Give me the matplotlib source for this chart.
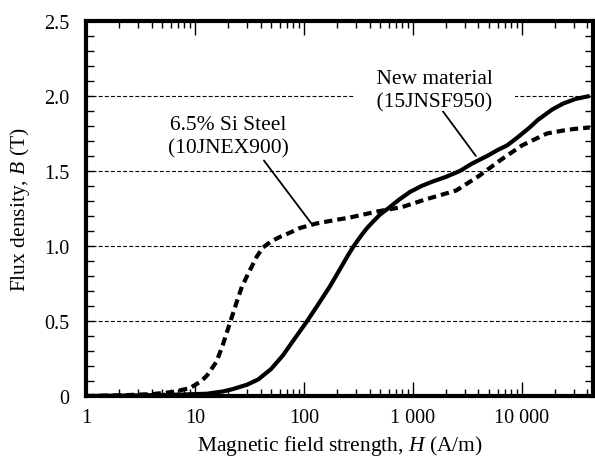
import matplotlib
matplotlib.use("Agg")
import matplotlib.pyplot as plt

# B-H curves
h_new = [1, 3, 7, 12.8, 18, 22, 30, 38, 50, 64, 80, 106, 135, 173, 220, 250, 281, 310,
         340, 380, 428, 500, 616, 750, 940, 1200, 1520, 2000, 2700, 3500, 4800, 6000,
         7300, 9000, 11800, 14000, 19000, 24000, 31000, 36000, 42000]
b_new = [0, 0.004, 0.009, 0.015, 0.03, 0.045, 0.075, 0.11, 0.18, 0.27, 0.37, 0.495,
         0.61, 0.73, 0.86, 0.93, 0.99, 1.035, 1.075, 1.12, 1.16, 1.21, 1.26, 1.31, 1.36,
         1.40, 1.43, 1.46, 1.50, 1.55, 1.60, 1.64, 1.67, 1.72, 1.79, 1.84, 1.91, 1.95,
         1.98, 1.99, 2.0]

h_si = [1, 2.2, 4.1, 6.3, 9, 11.5, 13, 15.8, 18, 21, 24, 27, 32, 37, 42, 50, 60, 75, 92,
        130, 200, 265, 470, 800, 1300, 2500, 4100, 6300, 10000, 17000, 24000, 30000, 42000]
b_si = [0, 0.005, 0.013, 0.027, 0.053, 0.10, 0.14, 0.23, 0.34, 0.49, 0.62, 0.73, 0.84,
        0.93, 0.99, 1.03, 1.06, 1.09, 1.12, 1.15, 1.175, 1.19, 1.23, 1.26, 1.31, 1.37,
        1.47, 1.57, 1.67, 1.75, 1.77, 1.78, 1.79]

xticks = [1, 10, 100, 1000, 10000]
xticklabels = ["1", "10", "100", "1 000", "10 000"]
yticks = [0, 0.5, 1.0, 1.5, 2.0, 2.5]
yticklabels = ["0", "0.5", "1.0", "1.5", "2.0", "2.5"]

plt.rcParams['font.family'] = ['Liberation Serif', 'DejaVu Serif']
plt.rcParams['mathtext.fontset'] = 'custom'
plt.rcParams['mathtext.rm'] = 'Liberation Serif'
plt.rcParams['mathtext.it'] = 'Liberation Serif:italic'

fig = plt.figure(figsize=(5.95, 4.64), dpi=100)
ax = fig.add_axes([86/595, 67/464, 507/595, 375/464])

ax.plot(h_new, b_new, color='black', lw=3, solid_capstyle='butt',
        solid_joinstyle='round', zorder=3)
ax.plot(h_si, b_si, color='black', lw=3, dashes=(2.0, 1.2), zorder=3)

ax.set_xscale('log')
ax.set_xlim(1, 45000)
ax.set_ylim(0, 2.5)
ax.set_xticks(xticks, xticklabels)
ax.set_yticks(yticks, yticklabels)
ax.set_yticks([i / 10 for i in range(26)], minor=True)

ax.grid(axis='y', which='major', color='black', lw=0.8, linestyle=(0, (3.5, 2)), zorder=1)
for s in ax.spines.values():
    s.set_linewidth(3)

ax.tick_params(which='both', direction='in', top=True, right=True, labelsize=14.5, width=1)
ax.tick_params(axis='x', which='major', length=10, pad=9)
ax.tick_params(axis='x', which='minor', length=5)
ax.tick_params(axis='y', which='both', length=6, pad=12)

ax.set_xlabel(r"Magnetic field strength, $H$ (A/m)", fontsize=15.5)
ax.set_ylabel(r"Flux density, $B$ (T)", fontsize=15.5)
ax.yaxis.set_label_coords(-0.1065, 0.5)
ax.xaxis.set_label_coords(0.5, -0.098)

ax.annotate("6.5% Si Steel\n(10JNEX900)", xy=(118, 1.147), xytext=(20.1, 1.73),
            ha='center', va='center', fontsize=15.5, linespacing=1.3, zorder=5,
            arrowprops=dict(arrowstyle='-', color='black', lw=1.3, shrinkA=0, shrinkB=0,
                            relpos=(0.78, 0)))
ax.annotate("    New material    \n    (15JNSF950)    ", xy=(3786, 1.60), xytext=(1592, 2.04),
            ha='center', va='center', fontsize=15.5, linespacing=1.3, zorder=5,
            bbox=dict(boxstyle='square,pad=0', fc='white', ec='none'),
            arrowprops=dict(arrowstyle='-', color='black', lw=1.3, shrinkA=0, shrinkB=0,
                            relpos=(0.55, 0)))

fig.savefig("out.png", dpi=100)
